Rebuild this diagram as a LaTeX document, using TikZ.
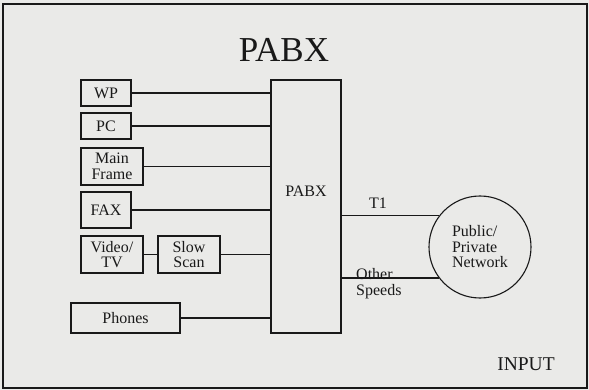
\documentclass[tikz,border=0pt]{standalone}
\usepackage{fontspec}
\setmainfont{Liberation Serif}
\usetikzlibrary{positioning}
\definecolor{pagegray}{RGB}{234,234,232}
\definecolor{inkblack}{RGB}{25,25,25}

\begin{document}
\begin{tikzpicture}[x=1pt,y=-1pt,every node/.style={font=\fontsize{16}{15.5}\selectfont,text=inkblack}]
  \tikzset{
    box/.style={draw=inkblack,line width=1.1pt,inner sep=0pt,align=center},
    conn/.style={draw=inkblack,line width=1.1pt},
    plain/.style={inner sep=0pt,align=left}
  }
  \useasboundingbox[fill=pagegray] (0,0) rectangle (589,390);
  \draw[inkblack,line width=1.3pt] (3,4) rectangle (587,388);
  % title and footer
  \node[font=\fontsize{35}{35}\selectfont] (title) at (284,50) {PABX};
  \node[font=\fontsize{19.5}{19.5}\selectfont] (input) at (526,364) {INPUT};
  % terminals
  \node[box,minimum width=50,minimum height=26] (wp) at (106,93) {WP};
  \node[box,minimum width=50,minimum height=26] (pc) at (106,126) {PC};
  \node[box,minimum width=62,minimum height=37] (mf) at (112,166.5) {Main\\Frame};
  \node[box,minimum width=50,minimum height=36] (fax) at (106,210) {FAX};
  \node[box,minimum width=62,minimum height=37] (video) at (112,254.5) {Video/\\TV};
  \node[box,minimum width=62,minimum height=37] (slow) at (189,254.5) {Slow\\Scan};
  \node[box,minimum width=109,minimum height=30] (phones) at (125.5,318) {Phones};
  % switch and network
  \node[box,minimum width=70,minimum height=253] (pabx) at (306,206.5) {};
  \node[plain] (pabxlbl) at (306,191) {PABX};
  \node[draw=inkblack,line width=1.1pt,circle,minimum size=102,inner sep=0pt,align=left] (net) at (480,247) {Public/\\Private\\Network};
  % links
  \draw[conn] (wp.east) -- (wp.east -| pabx.west);
  \draw[conn] (pc.east) -- (pc.east -| pabx.west);
  \draw[conn] (mf.east) -- (mf.east -| pabx.west);
  \draw[conn] (fax.east) -- (fax.east -| pabx.west);
  \draw[conn] (video.east) -- (slow.west);
  \draw[conn] (slow.east) -- (slow.east -| pabx.west);
  \draw[conn] (phones.east) -- (phones.east -| pabx.west);
  \draw[conn] (pabx.east |- net.142.6) -- (net.142.6);
  \draw[conn] (pabx.east |- net.217.4) -- (net.217.4);
  \node[plain] (t1) at (378,203) {T1};
  \node[plain,anchor=north west] (speeds) at (356,268.5) {Other\\Speeds};
\end{tikzpicture}
\end{document}
